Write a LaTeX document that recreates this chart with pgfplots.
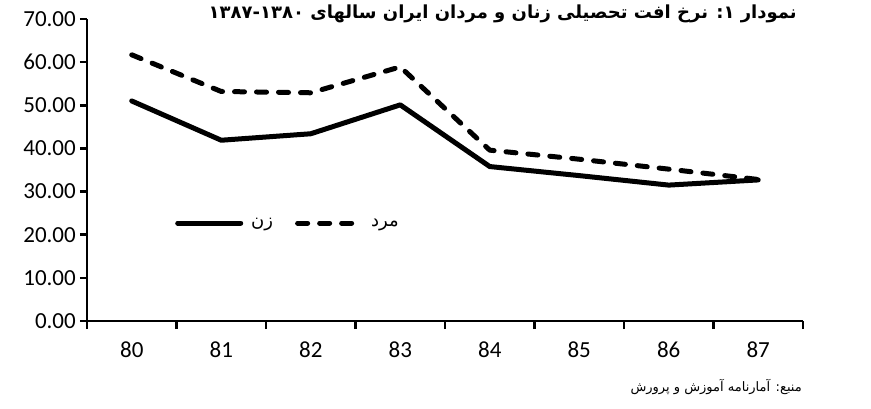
\documentclass[border=0pt]{standalone}
\usepackage{fontspec}
\usepackage{pgfplots}
\pgfplotsset{compat=1.18}
\setmainfont{Carlito}
\newfontfamily\arabicfont[Script=Arabic]{DejaVu Sans}
\TeXXeTstate=1
\begin{document}
\begin{tikzpicture}
\useasboundingbox (-87pt,-87pt) rectangle (784pt,321pt);
\begin{axis}[
  at={(0pt,0pt)}, anchor=south west,
  scale only axis, width=716pt, height=302pt,
  xmin=-0.5, xmax=7.5, ymin=0, ymax=70,
  axis x line*=bottom, axis y line*=left,
  axis line style={line width=2.5pt, black},
  xtick={0,...,7}, xticklabels={80,81,82,83,84,85,86,87},
  minor xtick={-0.5,0.5,...,7.5},
  ytick={0,10,...,70},
  tick align=outside,
  tick style={line width=2.5pt, black},
  major x tick style={draw=none},
  major tick length=7pt, minor tick length=8pt,
  /pgf/number format/assume math mode=true,
  yticklabel style={/pgf/number format/.cd, fixed, fixed zerofill, precision=2, /tikz/.cd, font=\fontsize{23}{23}\selectfont, inner sep=0pt, xshift=-4pt},
  xticklabel style={font=\fontsize{23}{23}\selectfont, inner sep=0pt, yshift=-14pt},
  clip=false,
  legend columns=2,
  legend style={draw=none, fill=none, at={(axis cs:0.45,22.7)}, anchor=west,
    font=\arabicfont\fontsize{18}{18}\selectfont,
    /tikz/every odd column/.append style={column sep=6pt},
    /tikz/every even column/.append style={column sep=20pt}},
  legend image code/.code={\draw[#1] (0pt,0pt) -- (63pt,0pt);},
]
\addplot[line width=5pt, black, line join=round, line cap=round]
  coordinates {(0,51.0)(1,41.9)(2,43.4)(3,50.1)(4,35.8)(5,33.7)(6,31.5)(7,32.7)};
\addlegendentry{\beginR زن\endR}
\addplot[line width=5pt, black, dash pattern=on 10pt off 12pt, line cap=round, line join=round]
  coordinates {(0,61.7)(1,53.2)(2,52.9)(3,58.9)(4,39.6)(5,37.5)(6,35.2)(7,32.8)};
\addlegendentry{\beginR مرد\endR}
\end{axis}
\node[anchor=north east, inner sep=0pt, font=\arabicfont\bfseries\fontsize{18}{18}\selectfont] at (710pt,316pt)
  {\beginR نمودار ۱: نرخ افت تحصیلی زنان و مردان ایران سالهای \beginL۱۳۸۷-۱۳۸۰\endL\endR};
\node[anchor=east, inner sep=0pt, font=\arabicfont\fontsize{13}{13}\selectfont] at (715pt,-66pt)
  {\beginR منبع: آمارنامه آموزش و پرورش\endR};
\end{tikzpicture}
\end{document}
